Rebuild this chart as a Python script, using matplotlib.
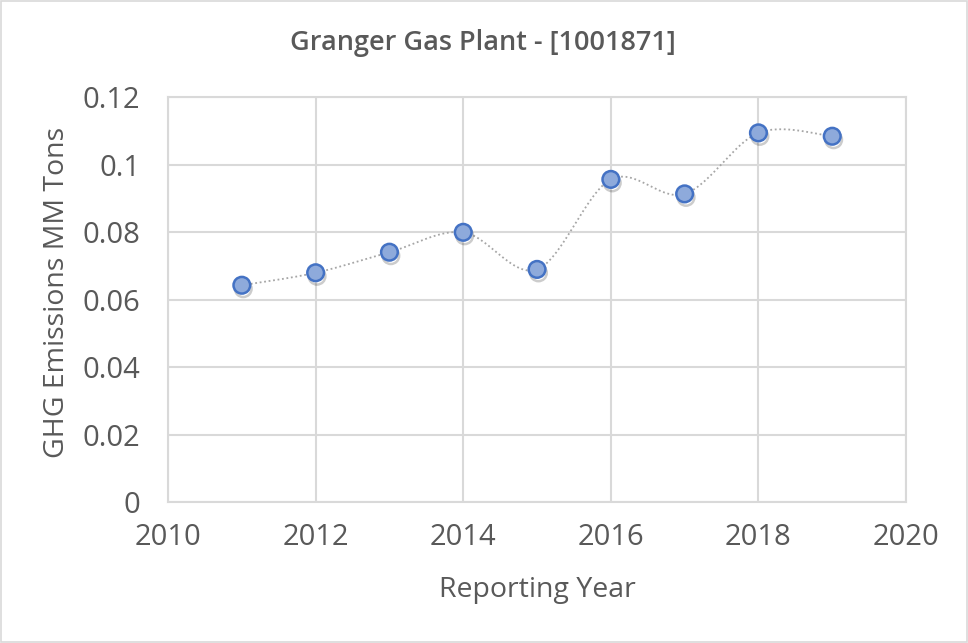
import numpy as np
import matplotlib
matplotlib.use("Agg")
import matplotlib.pyplot as plt
import matplotlib.patheffects as pe
from matplotlib.patches import Rectangle

years = [2011, 2012, 2013, 2014, 2015, 2016, 2017, 2018, 2019]
emissions = [0.0643, 0.0680, 0.0741, 0.0800, 0.0690, 0.0957, 0.0914, 0.1095, 0.1085]
title = "Granger Gas Plant - [1001871]"
xlabel = "Reporting Year"
ylabel = "GHG Emissions MM Tons"
xticks = [2010, 2012, 2014, 2016, 2018, 2020]
yticks = [0, 0.02, 0.04, 0.06, 0.08, 0.1, 0.12]
ytick_labels = ["0", "0.02", "0.04", "0.06", "0.08", "0.1", "0.12"]


def smooth(x, y, n=30):
    # Catmull-Rom style Bezier smoothing (Excel "smoothed line")
    x = np.asarray(x, float)
    y = np.asarray(y, float)
    px = np.concatenate([[x[0]], x, [x[-1]]])
    py = np.concatenate([[y[0]], y, [y[-1]]])
    xs, ys = [], []
    t = np.linspace(0, 1, n)
    for i in range(1, len(px) - 2):
        p0 = np.array([px[i], py[i]])
        p3 = np.array([px[i + 1], py[i + 1]])
        c1 = p0 + (np.array([px[i + 1], py[i + 1]]) - np.array([px[i - 1], py[i - 1]])) / 6
        c2 = p3 - (np.array([px[i + 2], py[i + 2]]) - np.array([px[i], py[i]])) / 6
        b = ((1 - t) ** 3)[:, None] * p0 + (3 * (1 - t) ** 2 * t)[:, None] * c1 \
            + (3 * (1 - t) * t ** 2)[:, None] * c2 + (t ** 3)[:, None] * p3
        xs.extend(b[:, 0])
        ys.extend(b[:, 1])
    return np.array(xs), np.array(ys)


plt.rcParams['font.family'] = ['Open Sans', 'DejaVu Sans']
text_color = '#595959'
W, H = 968, 643

fig = plt.figure(figsize=(9.68, 6.43), dpi=100)
fig.patches.append(Rectangle((0.0015, 0.002), 0.997, 0.996, transform=fig.transFigure,
                             fill=False, edgecolor='#d9d9d9', linewidth=1.2))
ax = fig.add_axes([0.1736, 0.2193, 0.7624, 0.6291])

sx, sy = smooth(years, emissions)
ax.plot(sx, sy, linestyle=(0, (1, 1.5)), color='#a6a6a6', linewidth=1.3, zorder=3)
ax.plot(years, emissions, linestyle='none', marker='o', markersize=12,
        markerfacecolor='#8eaadb', markeredgecolor='#4472c4', markeredgewidth=1.8,
        zorder=4,
        path_effects=[pe.SimpleLineShadow(offset=(1, -2.5), shadow_color='#000000', alpha=0.2),
                      pe.Normal()])

ax.set_xlim(2010, 2020)
ax.set_ylim(0, 0.12)
ax.set_xticks(xticks)
ax.set_yticks(yticks)
ax.set_yticklabels(ytick_labels)
ax.grid(True, color='#d9d9d9', linewidth=1.5)
ax.set_axisbelow(True)
for s in ax.spines.values():
    s.set_color('#d9d9d9')
    s.set_linewidth(1.5)
ax.tick_params(length=0, labelsize=21, labelcolor=text_color)
ax.tick_params(axis='y', pad=20)
ax.tick_params(axis='x', pad=15)

fig.text(537 / W, 1 - 590 / H, xlabel, ha='center', va='center', fontsize=20.5, color=text_color)
fig.text(57 / W, 1 - 292 / H, ylabel, ha='center', va='center', rotation=90,
         fontsize=20.5, color=text_color)
fig.text(483 / W, 1 - 43 / H, title, ha='center', va='center', fontsize=19.5,
         fontweight='semibold', color=text_color)

fig.savefig('out.png', dpi=100)
